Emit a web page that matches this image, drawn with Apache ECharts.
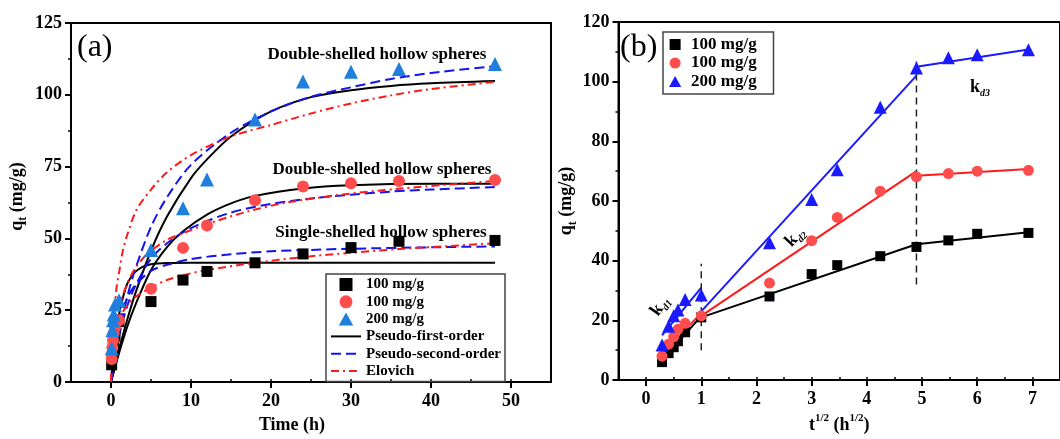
<!DOCTYPE html>
<html>
<head>
<meta charset="utf-8">
<script src="https://cdn.jsdelivr.net/npm/echarts@6/dist/echarts.min.js"></script>
<style>
  html, body { margin: 0; padding: 0; background: #fff; }
  #chart { width: 1060px; height: 439px; }
</style>
</head>
<body>
<div id="chart"></div>
<script>
// sampling times (h) and their square roots
var time = [0.083, 0.167, 0.25, 0.333, 0.5, 1, 5, 9, 12, 18, 24, 30, 36, 48];
var sqrtTime = [0.289, 0.408, 0.5, 0.577, 0.707, 1, 2.236, 3, 3.464, 4.243, 4.899, 5.477, 6, 6.928];

// measured qt (mg/g)
var qSingle = [6, 9, 11, 13, 16, 21, 28, 35.5, 38.5, 41.5, 44.6, 46.8, 49, 49.3];
var qDouble100 = [8, 12, 14.5, 17, 19, 21.5, 32.5, 46.7, 54.5, 63.3, 68.1, 69.2, 70, 70.3];
var qDouble200 = [11.7, 18, 21.5, 23.5, 27, 28.5, 46, 60.5, 70.5, 91.4, 104.6, 108, 109, 110.7];

// fitted curves, [t, qt]
var pfoSingle = [[0,0],[0.25,8],[0.5,14.5],[1,23.5],[1.5,29.5],[2,34],[2.5,36.5],[3,38.3],[4,40.2],[5,41],[7,41.4],[10,41.5],[20,41.5],[30,41.5],[48,41.5]];
var pfoDouble100 = [[0,0],[1,10],[2,19],[3,26.5],[5,39],[7,47],[9,52.5],[12,58.3],[15,62.2],[18,64.8],[24,67.4],[30,68.5],[40,69],[48,69]];
var pfoDouble200 = [[0,0],[1,11.3],[2,21.4],[3,30.5],[5,45.7],[7,57.6],[10,71],[12,77.5],[15,85.5],[20,94.2],[25,99.2],[30,101.6],[35,103.1],[40,104],[48,104.8]];
var psoSingle = [[0,0],[0.25,7.7],[0.5,13.2],[1,20.8],[2,29.1],[3,33.6],[5,38.7],[7,40.8],[10,42.8],[15,44.5],[20,45.5],[25,46],[30,46.4],[40,46.9],[48,47.2]];
var psoDouble100 = [[0,0],[0.5,9],[1,16],[2,26.2],[3,33.2],[5,43],[7,48.3],[10,53.6],[15,59],[20,62],[25,63.9],[30,65.2],[35,66.3],[40,67],[48,67.9]];
var psoDouble200 = [[0,0],[0.5,9],[1,16.6],[2,29.3],[3,39],[5,54],[7,64.3],[10,75.6],[15,86.8],[20,94.2],[25,99.3],[30,102.6],[35,105.5],[40,107.6],[48,110]];
var eloSingle = [[0,0],[0.1,7],[0.25,12],[0.5,17],[1,22],[2,26.5],[3,29.5],[5,33],[7,35.5],[9,37.2],[12,39],[18,41.5],[24,43.5],[30,45],[36,46.3],[42,47.3],[48,48.3]];
var eloDouble100 = [[0,0],[0.1,6],[0.25,12],[0.5,18],[1,26],[2,34],[3,39.5],[4.5,44.5],[7,49.5],[9,51.8],[12,55],[17,59.3],[22,62.5],[29,65.3],[36,67.3],[42,68.7],[48,70]];
var eloDouble200 = [[0,0],[0.1,10],[0.25,18],[0.5,27],[0.7,33],[1,38],[1.5,46],[2,51],[3.2,60],[5,67],[7,73],[10,79],[15,85.5],[20,89.5],[25,93.5],[30,97],[35,99.8],[40,102],[48,104.5]];

// intraparticle diffusion fits, panel (b)
var kdSingle = [[[0.289,6.5],[1,21.5]], [[1,21],[4.899,45.5]], [[4.899,45.5],[6.928,49.5]]];
var kdDouble100 = [[[0.289,8.5],[1,22.5]], [[1,21.5],[4.899,70]], [[4.899,68.5],[6.928,70.7]]];
var kdDouble200 = [[[0.289,15],[1,31]], [[1,23],[4.899,102]], [[4.899,105],[6.928,110.8]]];
var stageBreaks = [[[1,10],[1,39]], [[4.899,32],[4.899,107]]];

var xMajorA = [0, 10, 20, 30, 40, 50];
var xMajorB = [0, 1, 2, 3, 4, 5, 6, 7];

var SERIF = 'Liberation Serif';
var BLUE_A = '#1e7fdc', RED = '#ff4d4d', BLUE_B = '#1a1aff';
var SQUARE = 'path://M0,0H10V10H0Z';
var TRIANGLE = 'path://M5,0L10,9H0Z';

function pairs(xs, ys) {
  return xs.map(function (x, i) { return [x, ys[i]]; });
}

var chart = echarts.init(document.getElementById('chart'));

var nameRich = {
  a: { fontFamily: SERIF, fontWeight: 'bold', fontSize: 18, lineHeight: 24, verticalAlign: 'middle', color: '#000' },
  s: { fontFamily: SERIF, fontWeight: 'bold', fontSize: 12, lineHeight: 12, verticalAlign: 'bottom', color: '#000' },
  u: { fontFamily: SERIF, fontWeight: 'bold', fontSize: 11, lineHeight: 11, verticalAlign: 'top', color: '#000' }
};
var tickLabel = { fontFamily: SERIF, fontWeight: 'bold', fontSize: 18, color: '#000' };
var axisLine = { show: true, onZero: false, lineStyle: { color: '#000', width: 2 } };

function mainX(grid, min, max, interval, major, name, gap, pad) {
  return {
    type: 'value', gridIndex: grid, min: min, max: max, interval: interval,
    axisLine: axisLine,
    axisTick: { show: true, length: 6, lineStyle: { width: 2, color: '#000' }, customValues: major },
    axisLabel: Object.assign({ margin: 10, customValues: major }, tickLabel),
    splitLine: { show: false },
    name: name, nameLocation: 'middle', nameGap: gap,
    nameTextStyle: { rich: nameRich, padding: pad }
  };
}
function minorX(grid, min, max, interval) {
  return {
    type: 'value', gridIndex: grid, min: min, max: max, interval: interval,
    axisLine: { show: false }, axisLabel: { show: false }, splitLine: { show: false },
    axisTick: { show: true, length: 3, lineStyle: { width: 1.5, color: '#000' } }
  };
}
function mainY(grid, max, interval, gap, pad) {
  return {
    type: 'value', gridIndex: grid, min: 0, max: max, interval: interval,
    axisLine: axisLine,
    axisTick: { show: true, length: 6, lineStyle: { width: 2, color: '#000' } },
    minorTick: { show: true, splitNumber: 2, length: 3, lineStyle: { width: 1.5, color: '#000' } },
    axisLabel: Object.assign({ margin: 9 }, tickLabel),
    splitLine: { show: false },
    name: '{a|q}{s|t}{a| (mg/g)}', nameLocation: 'middle', nameGap: gap,
    nameTextStyle: { rich: nameRich, padding: pad }
  };
}

function curve(name, data, color, type) {
  return {
    type: 'line', name: name, xAxisIndex: 0, yAxisIndex: 0, data: data,
    smooth: 0.3, symbol: 'none', silent: true,
    lineStyle: { color: color, width: 2, type: type }, itemStyle: { color: color }, z: 2
  };
}
function points(name, xIdx, yIdx, data, symbol, size, color) {
  return {
    type: 'scatter', name: name, xAxisIndex: xIdx, yAxisIndex: yIdx, data: data,
    symbol: symbol, symbolSize: size, itemStyle: { color: color, opacity: 1 }, z: 3
  };
}
function segments(list, color, width, type) {
  return list.map(function (seg) {
    return {
      type: 'line', xAxisIndex: 2, yAxisIndex: 1, data: seg, symbol: 'none', silent: true,
      lineStyle: { color: color, width: width, type: type }, z: 2
    };
  });
}

var DASH = [10, 5], DASHDOT = [8, 4, 2, 4];

var series = [
  curve('Pseudo-first-order', pfoSingle, '#000', 'solid'),
  curve('Pseudo-first-order', pfoDouble100, '#000', 'solid'),
  curve('Pseudo-first-order', pfoDouble200, '#000', 'solid'),
  curve('Pseudo-second-order', psoSingle, '#1414ee', DASH),
  curve('Pseudo-second-order', psoDouble100, '#1414ee', DASH),
  curve('Pseudo-second-order', psoDouble200, '#1414ee', DASH),
  curve('Elovich', eloSingle, '#ff1a1a', DASHDOT),
  curve('Elovich', eloDouble100, '#ff1a1a', DASHDOT),
  curve('Elovich', eloDouble200, '#ff1a1a', DASHDOT),
  points('100 mg/g', 0, 0, pairs(time, qSingle), 'rect', 11, '#000'),
  points('100 mg/g ', 0, 0, pairs(time, qDouble100), 'circle', 12, RED),
  points('200 mg/g', 0, 0, pairs(time, qDouble200), 'triangle', 14, BLUE_A),
  points('100 mg/g  ', 2, 1, pairs(sqrtTime, qSingle), 'rect', 10, '#000'),
  points('100 mg/g   ', 2, 1, pairs(sqrtTime, qDouble100), 'circle', 11, RED),
  points('200 mg/g ', 2, 1, pairs(sqrtTime, qDouble200), 'triangle', 13, BLUE_B)
].concat(
  segments(kdSingle, '#000', 2, 'solid'),
  segments(kdDouble100, '#ff1a1a', 2, 'solid'),
  segments(kdDouble200, BLUE_B, 2, 'solid'),
  segments(stageBreaks, '#222', 1.5, [7, 5])
);

function label(x, y, text, opts) {
  return Object.assign({
    type: 'text', x: x, y: y, silent: true,
    style: { text: text, fill: '#000', font: 'bold 17px ' + SERIF, align: 'center', verticalAlign: 'middle' }
  }, opts || {});
}
var kRich = {
  k: { fontFamily: SERIF, fontWeight: 'bold', fontSize: 18, lineHeight: 22, verticalAlign: 'middle', color: '#000' },
  d: { fontFamily: SERIF, fontWeight: 'bold', fontStyle: 'italic', fontSize: 10, lineHeight: 10, verticalAlign: 'bottom', color: '#000' }
};
function kLabel(x, y, idx, rot) {
  return {
    type: 'text', x: x, y: y, rotation: rot, silent: true,
    style: { text: '{k|k}{d|d' + idx + '}', rich: kRich, align: 'center', verticalAlign: 'middle' }
  };
}
var noSymbol = { opacity: 0 };

chart.setOption({
  animation: false,
  backgroundColor: '#fff',
  grid: [
    { left: 71, right: 509, top: 23, bottom: 52.5, show: true, borderColor: '#000', borderWidth: 2 },
    { left: 618.5, right: -7, top: 22, bottom: 54, show: true, borderColor: '#000', borderWidth: 2 }
  ],
  xAxis: [
    mainX(0, -5, 55, 5, xMajorA, '{a|Time (h)}', 31, [0, 38, 0, 0]),
    minorX(0, -5, 55, 5),
    mainX(1, -0.5, 7.5, 0.5, xMajorB, '{a|t}{u|1/2}{a| (h}{u|1/2}{a|)}', 33, 0),
    minorX(1, -0.5, 7.5, 0.5)
  ],
  yAxis: [
    mainY(0, 125, 25, 42, [0, 0, 0, 12]),
    mainY(1, 120, 20, 35, 0)
  ],
  legend: [
    {
      orient: 'vertical', left: 326, top: 274,
      itemWidth: 30, itemHeight: 13, itemGap: 2.3, padding: [3, 4, 3, 4],
      borderColor: '#444', borderWidth: 1.5, selectedMode: false,
      textStyle: { fontFamily: SERIF, fontWeight: 'bold', fontSize: 15, lineHeight: 14, color: '#000' },
      data: [
        { name: '100 mg/g', icon: SQUARE },
        { name: '100 mg/g ', icon: 'circle' },
        { name: '200 mg/g', icon: TRIANGLE },
        { name: 'Pseudo-first-order', itemStyle: noSymbol },
        { name: 'Pseudo-second-order', itemStyle: noSymbol },
        { name: 'Elovich', itemStyle: noSymbol }
      ]
    },
    {
      orient: 'vertical', left: 663, top: 32,
      itemWidth: 22, itemHeight: 11, itemGap: 1.5, padding: [4, 4, 4, 6],
      borderColor: '#444', borderWidth: 1.5, selectedMode: false,
      textStyle: { fontFamily: SERIF, fontWeight: 'bold', fontSize: 17, lineHeight: 14, color: '#000' },
      data: [
        { name: '100 mg/g  ', icon: SQUARE },
        { name: '100 mg/g   ', icon: 'circle' },
        { name: '200 mg/g ', icon: TRIANGLE }
      ]
    }
  ],
  graphic: [
    label(77, 48, '(a)', { style: { text: '(a)', fill: '#000', font: '32px ' + SERIF, align: 'left', verticalAlign: 'middle' } }),
    label(620, 48, '(b)', { style: { text: '(b)', fill: '#000', font: '32px ' + SERIF, align: 'left', verticalAlign: 'middle' } }),
    label(377, 55, 'Double-shelled hollow spheres'),
    label(382, 170, 'Double-shelled hollow spheres'),
    label(381, 233, 'Single-shelled hollow spheres'),
    kLabel(660, 306, 1, Math.PI * 55 / 180),
    kLabel(795, 237, 2, Math.PI * 47 / 180),
    kLabel(980, 87, 3, 0)
  ],
  series: series
});
</script>
</body>
</html>
